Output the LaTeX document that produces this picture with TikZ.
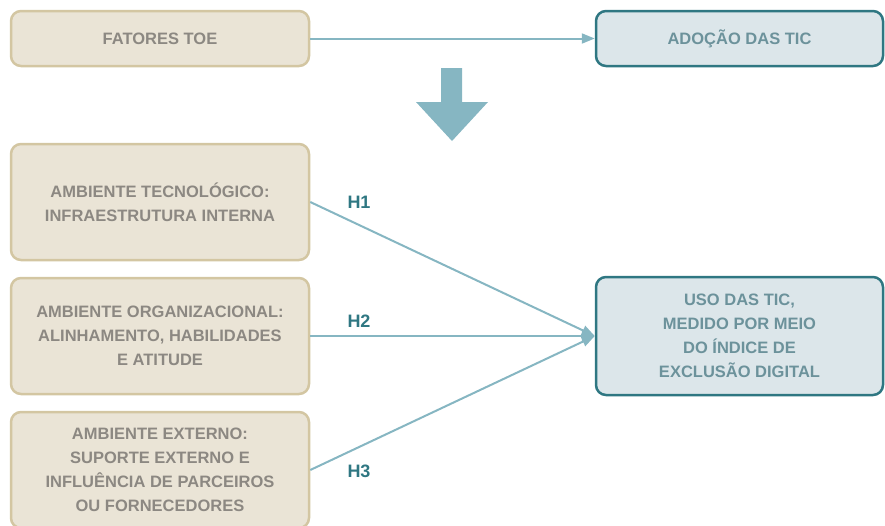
\documentclass[tikz,border=0pt]{standalone}
\usepackage{fontspec}
\setmainfont{Liberation Sans}
\usetikzlibrary{arrows.meta}
\definecolor{tanfill}{HTML}{EAE4D6}
\definecolor{tanline}{HTML}{D3C6A2}
\definecolor{tantext}{HTML}{8C8882}
\definecolor{bluefill}{HTML}{DCE6EA}
\definecolor{blueline}{HTML}{2F7782}
\definecolor{bluetext}{HTML}{6C929B}
\definecolor{linkblue}{HTML}{86B6C2}
\begin{document}
\begin{tikzpicture}[x=1pt, y=-1pt,
    factor/.style={rectangle, rounded corners=10pt, draw=tanline, fill=tanfill, line width=2.5pt,
      minimum width=298pt, align=center, text=tantext, font=\bfseries\fontsize{16.5}{24}\selectfont},
    result/.style={rectangle, rounded corners=10pt, draw=blueline, fill=bluefill, line width=2.5pt,
      minimum width=287pt, align=center, text=bluetext, font=\bfseries\fontsize{16.5}{24}\selectfont},
    link/.style={-{Triangle[length=13pt, width=10pt]}, draw=linkblue, line width=2pt},
    hyp/.style={text=blueline, font=\bfseries\fontsize{18}{20}\selectfont}
  ]
    \useasboundingbox (0,0) rectangle (885,525);

    % Top row
    \node[factor, minimum height=55pt] (toe) at (160,38.5) {FATORES TOE};
    \node[result, minimum height=55pt] (adocao) at (739.5,38.5) {ADOÇÃO DAS TIC};
    \draw[link] (toe) -- (adocao);

    % Big arrow
    \fill[linkblue] (441,68) -- (462,68) -- (462,102) -- (488,102) -- (452,141)
      -- (416,102) -- (441,102) -- cycle;

    % Factors
    \node[factor, minimum height=116pt] (tec) at (160,202)
      {AMBIENTE TECNOLÓGICO:\\INFRAESTRUTURA INTERNA};
    \node[factor, minimum height=116pt] (org) at (160,336)
      {AMBIENTE ORGANIZACIONAL:\\ALINHAMENTO, HABILIDADES\\E ATITUDE};
    \node[factor, minimum height=116pt] (ext) at (160,470)
      {AMBIENTE EXTERNO:\\SUPORTE EXTERNO E\\INFLUÊNCIA DE PARCEIROS\\OU FORNECEDORES};

    % Outcome
    \node[result, minimum height=118pt] (uso) at (739.5,336)
      {USO DAS TIC,\\MEDIDO POR MEIO\\DO ÍNDICE DE\\EXCLUSÃO DIGITAL};

    % Hypotheses
    \draw[link] (tec.east) -- (uso.west);
    \draw[link] (org.east) -- (uso.west);
    \draw[link] (ext.east) -- (uso.west);
    \node[hyp] (h1) at (359,202) {H1};
    \node[hyp] (h2) at (359,321) {H2};
    \node[hyp] (h3) at (359,471) {H3};
  \end{tikzpicture}
\end{document}
